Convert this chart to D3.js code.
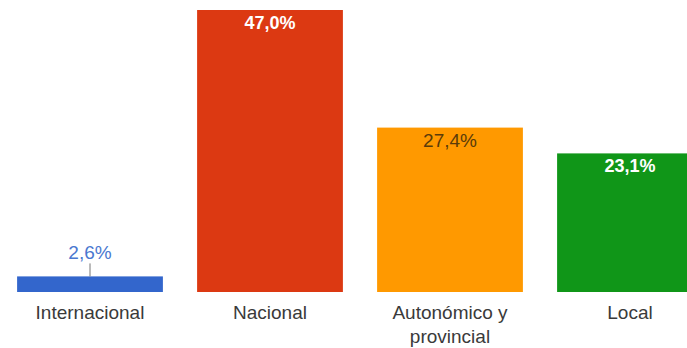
<!DOCTYPE html>
<html>
<head>
<meta charset="utf-8">
<script src="https://cdn.jsdelivr.net/npm/d3@7"></script>
<style>
  html, body { margin: 0; padding: 0; background: #fff; overflow: hidden; }
  svg { display: block; font-family: "Liberation Sans", Arial, sans-serif; }
</style>
</head>
<body>
<svg id="chart" width="687" height="348"></svg>
<script>
// Ámbito de las noticias (porcentaje)
const categories = ["Internacional", "Nacional", "Autonómico y provincial", "Local"];
const categoryLines = [["Internacional"], ["Nacional"], ["Autonómico y", "provincial"], ["Local"]];
const values = [2.6, 47.0, 27.4, 23.1];
const valueLabels = ["2,6%", "47,0%", "27,4%", "23,1%"];
const colors = ["#3366cc", "#dc3912", "#ff9900", "#109618"];

const svg = d3.select("#chart");
const baseline = 292;

const x = d3.scaleBand()
  .domain(categories)
  .range([0, 720])
  .paddingInner(0.19)
  .paddingOuter(0.095);

const y = d3.scaleLinear()
  .domain([0, 47])
  .range([baseline, 10]);

const data = categories.map((c, i) => ({
  cat: c, value: values[i], label: valueLabels[i], color: colors[i], lines: categoryLines[i]
}));

// bars
svg.selectAll("rect.bar")
  .data(data)
  .join("rect")
  .attr("class", "bar")
  .attr("x", d => x(d.cat))
  .attr("y", d => y(d.value))
  .attr("width", x.bandwidth())
  .attr("height", d => baseline - y(d.value))
  .attr("fill", d => d.color);

// value labels: inside tall bars, above short ones with a leader line
data.forEach(d => {
  const cx = x(d.cat) + x.bandwidth() / 2;
  const top = y(d.value);
  const h = baseline - top;
  if (h < 30) {
    svg.append("line")
      .attr("x1", cx).attr("x2", cx)
      .attr("y1", top - 13).attr("y2", top)
      .attr("stroke", "#777").attr("stroke-width", 1);
    svg.append("text")
      .attr("x", cx).attr("y", top - 17)
      .attr("text-anchor", "middle")
      .attr("font-size", 19)
      .attr("fill", "#4a78d0")
      .text(d.label);
  } else {
    const dark = d.color === "#ff9900";
    svg.append("text")
      .attr("x", cx).attr("y", top + 19)
      .attr("text-anchor", "middle")
      .attr("font-size", dark ? 19 : 18)
      .attr("font-weight", dark ? "normal" : "bold")
      .attr("fill", dark ? "#5a3c0a" : "#ffffff")
      .text(d.label);
  }
});

// category labels
data.forEach(d => {
  const cx = x(d.cat) + x.bandwidth() / 2;
  const t = svg.append("text")
    .attr("text-anchor", "middle")
    .attr("font-size", 19)
    .attr("fill", "#3a3a3a");
  d.lines.forEach((ln, j) => {
    t.append("tspan").attr("x", cx).attr("y", 319 + j * 24).text(ln);
  });
});
</script>
</body>
</html>
